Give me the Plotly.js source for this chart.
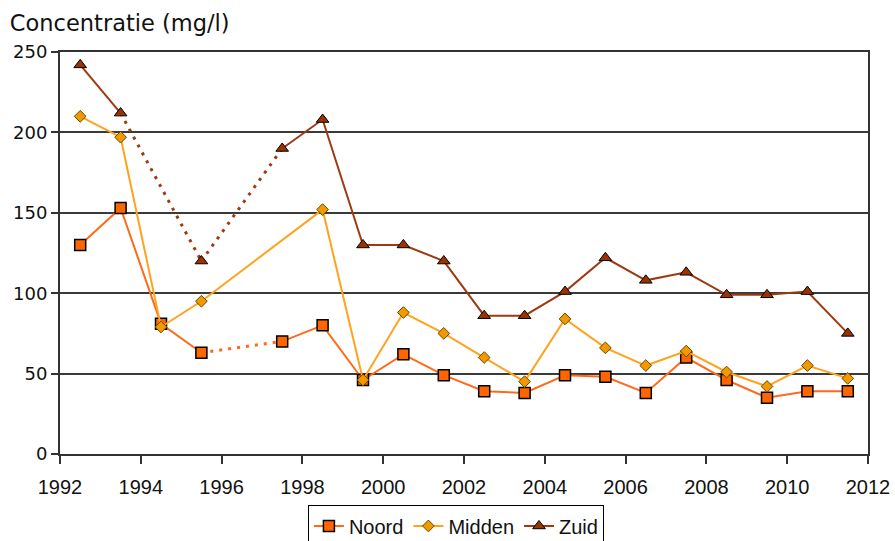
<!DOCTYPE html>
<html>
<head>
<meta charset="utf-8">
<script src="https://cdn.plot.ly/plotly-3.0.1.min.js"></script>
<style>
  html, body { margin: 0; padding: 0; background: #ffffff; }
  #chart { width: 895px; height: 541px; }
</style>
</head>
<body>
<div id="chart"></div>
<script>
// Measurement years (values are plotted mid-year)
const years = [1992, 1993, 1994, 1995, 1996, 1997, 1998, 1999, 2000, 2001,
               2002, 2003, 2004, 2005, 2006, 2007, 2008, 2009, 2010, 2011];
// Concentration (mg/l); null = no measurement
const noord  = [130, 153, 81, 63, null, 70, 80, 46, 62, 49, 39, 38, 49, 48, 38, 60, 46, 35, 39, 39];
const midden = [210, 197, 79, 95, null, null, 152, 46, 88, 75, 60, 45, 84, 66, 55, 64, 51, 42, 55, 47];
const zuid   = [242, 212, null, 120, null, 190, 208, 130, 130, 120, 86, 86, 101, 122, 108, 113, 99, 99, 101, 75];
const seriesNames = ["Noord", "Midden", "Zuid"];
const xTickVals = [1992, 1994, 1996, 1998, 2000, 2002, 2004, 2006, 2008, 2010, 2012];
const yTickVals = [0, 50, 100, 150, 200, 250];

const xs = years.map(y => y + 0.5);

// Build dotted connector segments that bridge only the missing years
function gapSegments(xv, yv) {
  const gx = [], gy = [];
  let lastIdx = -1;
  for (let i = 0; i < yv.length; i++) {
    if (yv[i] === null) continue;
    if (lastIdx >= 0 && i - lastIdx > 1) {
      gx.push(xv[lastIdx], xv[i], null);
      gy.push(yv[lastIdx], yv[i], null);
    }
    lastIdx = i;
  }
  return { x: gx, y: gy };
}
const gN = gapSegments(xs, noord);
const gZ = gapSegments(xs, zuid);

const cNoord = "#FF6A1A", cMidden = "#FFA31F", cZuid = "#9E3A12";

const traces = [
  { x: gN.x, y: gN.y, type: "scatter", mode: "lines", connectgaps: false,
    line: { color: cNoord, width: 3, dash: "3px,6px" }, showlegend: false, hoverinfo: "skip" },
  { x: gZ.x, y: gZ.y, type: "scatter", mode: "lines", connectgaps: false,
    line: { color: cZuid, width: 3, dash: "3px,6px" }, showlegend: false, hoverinfo: "skip" },
  { x: xs, y: noord, name: seriesNames[0], type: "scatter", mode: "lines+markers", connectgaps: false,
    line: { color: cNoord, width: 2 },
    marker: { symbol: "square", size: 11, color: "#FF6600", line: { color: "#000", width: 1.5 } } },
  { x: xs, y: midden, name: seriesNames[1], type: "scatter", mode: "lines+markers", connectgaps: true,
    line: { color: cMidden, width: 2 },
    marker: { symbol: "diamond", size: 9, color: "#F09A00", line: { color: "#6b4400", width: 1 } } },
  { x: xs, y: zuid, name: seriesNames[2], type: "scatter", mode: "lines+markers", connectgaps: false,
    line: { color: cZuid, width: 2 },
    marker: { symbol: "triangle-up", size: 11, color: "#993300", line: { color: "#000", width: 1 } } }
];

const layout = {
  width: 895, height: 541,
  margin: { l: 60, r: 27, t: 52, b: 87, autoexpand: false },
  paper_bgcolor: "#ffffff", plot_bgcolor: "#ffffff",
  title: { text: "Concentratie (mg/l)", x: 0.011, xref: "container", xanchor: "left",
           yref: "container", y: 0.958, yanchor: "middle",
           font: { family: "DejaVu Sans, Verdana, sans-serif", size: 22.5, color: "#111" } },
  xaxis: {
    range: [1992, 2012], tickvals: xTickVals, ticktext: xTickVals.map(String),
    showgrid: false, zeroline: false, automargin: false,
    showline: true, linecolor: "#333", linewidth: 2, mirror: true,
    ticks: "outside", ticklen: 8, tickcolor: "#333", tickwidth: 2, ticklabelstandoff: 6,
    tickfont: { family: "Liberation Sans, Arial, sans-serif", size: 20, color: "#111" }
  },
  yaxis: {
    range: [0, 250], tickvals: yTickVals, ticktext: yTickVals.map(String),
    showgrid: true, gridcolor: "#3a3a3a", gridwidth: 2, zeroline: false, automargin: false,
    showline: true, linecolor: "#333", linewidth: 2, mirror: true,
    ticks: "outside", ticklen: 7, tickcolor: "#333", tickwidth: 2,
    tickfont: { family: "DejaVu Sans, Verdana, sans-serif", size: 18, color: "#111" }
  },
  showlegend: true,
  legend: {
    orientation: "h", x: 0.49, xanchor: "center", y: -0.128, yanchor: "top",
    bordercolor: "#000", borderwidth: 1, bgcolor: "#fff",
    font: { family: "Liberation Sans, Arial, sans-serif", size: 20, color: "#111" },
    itemwidth: 30, tracegroupgap: 0
  },
  hovermode: false
};

Plotly.newPlot("chart", traces, layout, { displayModeBar: false, staticPlot: true });
</script>
</body>
</html>
